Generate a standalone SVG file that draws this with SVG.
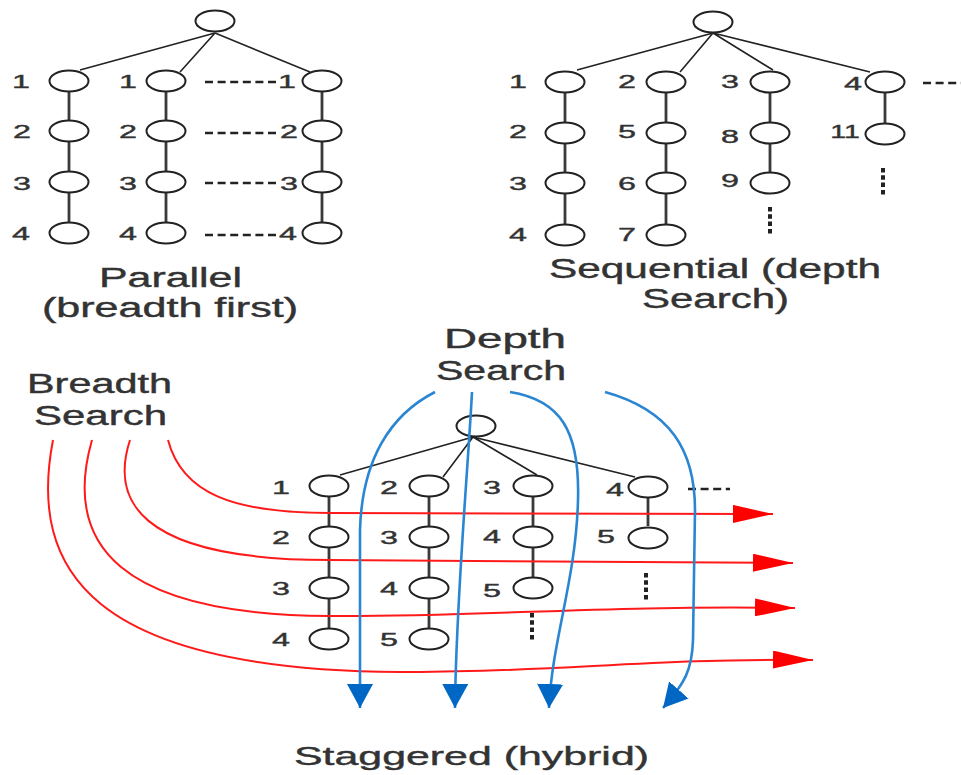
<svg xmlns="http://www.w3.org/2000/svg" width="961" height="775" viewBox="0 0 961 775">
  <style>
    .nd { fill: #fff; stroke: #222; stroke-width: 2; }
    .tx { font-family: "Liberation Sans", Arial, sans-serif; fill: #333; stroke: #333; stroke-width: 0.4; }
    .big { font-size: 27px; }
    .n { font-size: 19px; text-anchor: middle; }
    .edge { stroke: #222; stroke-width: 1.6; fill: none; }
    .stem { stroke: #3a3a3a; stroke-width: 2.8; fill: none; }
    .dash { stroke: #222; stroke-width: 2.6; stroke-dasharray: 8 4.6; fill: none; }
    .vdots { stroke: #222; stroke-width: 4; stroke-dasharray: 4.5 2.8; fill: none; }
    .red { stroke: #ff1a1a; stroke-width: 2; fill: none; marker-end: url(#redHead); }
    .blue { stroke: #2a86d2; stroke-width: 2.6; fill: none; marker-end: url(#blueHead); }
  </style>
  <defs>
    <marker id="redHead" markerUnits="userSpaceOnUse" markerWidth="40" markerHeight="18" refX="40" refY="9" orient="auto">
      <path d="M0,0 L40,9 L0,18 z" fill="#ff0000"/>
    </marker>
    <marker id="blueHead" markerUnits="userSpaceOnUse" markerWidth="24" markerHeight="26" refX="24" refY="13" orient="auto">
      <path d="M0,0 L24,13 L0,26 z" fill="#0068c4"/>
    </marker>
  </defs>

  <rect width="961" height="775" fill="#fff"/>

  <!-- ===== Parallel tree: edges ===== -->
  <g id="parallel-edges">
    <path class="edge" d="M215,33 L80,70 M215,33 L180,72 M215,33 L310,72"/>
    <path class="stem" d="M69,92 V120 M69,142 V171 M69,193 V222"/>
    <path class="stem" d="M166,92 V120 M166,142 V171 M166,193 V222"/>
    <path class="stem" d="M322,92 V120 M322,142 V171 M322,193 V222"/>
    <path class="dash" d="M205,82 H278 M205,133 H278 M205,183 H278 M205,235 H278"/>
  </g>

  <!-- ===== Parallel tree: nodes ===== -->
  <g id="p-root"><ellipse class="nd" cx="215" cy="21" rx="19.5" ry="10.5"/></g>
  <g id="p-a1"><ellipse class="nd" cx="69" cy="81" rx="19.5" ry="10.5"/><text class="tx n" transform="translate(21,88) scale(1.7,1)">1</text></g>
  <g id="p-a2"><ellipse class="nd" cx="69" cy="131" rx="19.5" ry="10.5"/><text class="tx n" transform="translate(22,138) scale(1.7,1)">2</text></g>
  <g id="p-a3"><ellipse class="nd" cx="69" cy="182" rx="19.5" ry="10.5"/><text class="tx n" transform="translate(22,190) scale(1.7,1)">3</text></g>
  <g id="p-a4"><ellipse class="nd" cx="69" cy="233" rx="19.5" ry="10.5"/><text class="tx n" transform="translate(21,240) scale(1.7,1)">4</text></g>
  <g id="p-b1"><ellipse class="nd" cx="166" cy="81" rx="19.5" ry="10.5"/><text class="tx n" transform="translate(128,88) scale(1.7,1)">1</text></g>
  <g id="p-b2"><ellipse class="nd" cx="166" cy="131" rx="19.5" ry="10.5"/><text class="tx n" transform="translate(128,138) scale(1.7,1)">2</text></g>
  <g id="p-b3"><ellipse class="nd" cx="166" cy="182" rx="19.5" ry="10.5"/><text class="tx n" transform="translate(128,190) scale(1.7,1)">3</text></g>
  <g id="p-b4"><ellipse class="nd" cx="166" cy="233" rx="19.5" ry="10.5"/><text class="tx n" transform="translate(128,240) scale(1.7,1)">4</text></g>
  <g id="p-c1"><ellipse class="nd" cx="322" cy="81" rx="19.5" ry="10.5"/><text class="tx n" transform="translate(287,88) scale(1.7,1)">1</text></g>
  <g id="p-c2"><ellipse class="nd" cx="322" cy="131" rx="19.5" ry="10.5"/><text class="tx n" transform="translate(289,138) scale(1.7,1)">2</text></g>
  <g id="p-c3"><ellipse class="nd" cx="322" cy="182" rx="19.5" ry="10.5"/><text class="tx n" transform="translate(289,190) scale(1.7,1)">3</text></g>
  <g id="p-c4"><ellipse class="nd" cx="322" cy="233" rx="19.5" ry="10.5"/><text class="tx n" transform="translate(288,240) scale(1.7,1)">4</text></g>

  <g id="p-caption">
    <text class="tx big" x="99" y="287" textLength="143" lengthAdjust="spacingAndGlyphs">Parallel</text>
    <text class="tx big" x="42" y="317" textLength="256" lengthAdjust="spacingAndGlyphs">(breadth first)</text>
  </g>

  <!-- ===== Sequential tree: edges ===== -->
  <g id="sequential-edges">
    <path class="edge" d="M713,33 L577,70 M713,33 L680,72 M713,33 L773,70 M713,33 L870,72"/>
    <path class="stem" d="M565,93 V122 M565,144 V172 M565,194 V224"/>
    <path class="stem" d="M666,93 V122 M666,144 V172 M666,194 V224"/>
    <path class="stem" d="M770,93 V122 M770,144 V172"/>
    <path class="stem" d="M885,93 V123"/>
    <path class="dash" d="M923,83 H961"/>
    <path class="vdots" d="M770,207 V235 M883,168 V197"/>
  </g>

  <!-- ===== Sequential tree: nodes ===== -->
  <g id="s-root"><ellipse class="nd" cx="713" cy="22" rx="19.5" ry="10.5"/></g>
  <g id="s-a1"><ellipse class="nd" cx="565" cy="82" rx="19.5" ry="10.5"/><text class="tx n" transform="translate(518,88) scale(1.7,1)">1</text></g>
  <g id="s-a2"><ellipse class="nd" cx="565" cy="133" rx="19.5" ry="10.5"/><text class="tx n" transform="translate(518,138) scale(1.7,1)">2</text></g>
  <g id="s-a3"><ellipse class="nd" cx="565" cy="183" rx="19.5" ry="10.5"/><text class="tx n" transform="translate(518,190) scale(1.7,1)">3</text></g>
  <g id="s-a4"><ellipse class="nd" cx="565" cy="235" rx="19.5" ry="10.5"/><text class="tx n" transform="translate(518,241) scale(1.7,1)">4</text></g>
  <g id="s-b2"><ellipse class="nd" cx="666" cy="82" rx="19.5" ry="10.5"/><text class="tx n" transform="translate(627,88) scale(1.7,1)">2</text></g>
  <g id="s-b5"><ellipse class="nd" cx="666" cy="133" rx="19.5" ry="10.5"/><text class="tx n" transform="translate(627,138) scale(1.7,1)">5</text></g>
  <g id="s-b6"><ellipse class="nd" cx="666" cy="183" rx="19.5" ry="10.5"/><text class="tx n" transform="translate(627,190) scale(1.7,1)">6</text></g>
  <g id="s-b7"><ellipse class="nd" cx="666" cy="235" rx="19.5" ry="10.5"/><text class="tx n" transform="translate(627,241) scale(1.7,1)">7</text></g>
  <g id="s-c3"><ellipse class="nd" cx="770" cy="82" rx="19.5" ry="10.5"/><text class="tx n" transform="translate(730,88) scale(1.7,1)">3</text></g>
  <g id="s-c8"><ellipse class="nd" cx="770" cy="133" rx="19.5" ry="10.5"/><text class="tx n" transform="translate(730,143) scale(1.7,1)">8</text></g>
  <g id="s-c9"><ellipse class="nd" cx="770" cy="183" rx="19.5" ry="10.5"/><text class="tx n" transform="translate(730,187) scale(1.7,1)">9</text></g>
  <g id="s-d4"><ellipse class="nd" cx="885" cy="82" rx="19.5" ry="10.5"/><text class="tx n" transform="translate(853,90) scale(1.7,1)">4</text></g>
  <g id="s-d11"><ellipse class="nd" cx="885" cy="134" rx="19.5" ry="10.5"/><text class="tx n" transform="translate(845,138) scale(1.5,1)">11</text></g>

  <g id="s-caption">
    <text class="tx big" x="549" y="278" textLength="332" lengthAdjust="spacingAndGlyphs">Sequential (depth</text>
    <text class="tx big" x="642" y="308" textLength="147" lengthAdjust="spacingAndGlyphs">Search)</text>
  </g>

  <!-- ===== Staggered tree: edges ===== -->
  <g id="staggered-edges">
    <path class="edge" d="M473,437 L340,475 M473,437 L443,477 M473,437 L537,475 M473,437 L635,477"/>
    <path class="stem" d="M329,497 V526 M329,548 V577 M329,599 V628"/>
    <path class="stem" d="M429,497 V526 M429,548 V577 M429,599 V628"/>
    <path class="stem" d="M533,497 V526 M533,548 V577"/>
    <path class="stem" d="M648,497 V526"/>
    <path class="dash" d="M688,489 H730"/>
    <path class="vdots" d="M532,613 V641 M646,573 V602"/>
  </g>

  <!-- ===== Staggered tree: nodes ===== -->
  <g id="h-root"><ellipse class="nd" cx="476" cy="426" rx="19.5" ry="10.5"/></g>
  <g id="h-a1"><ellipse class="nd" cx="329" cy="486" rx="19.5" ry="10.5"/><text class="tx n" transform="translate(281,494) scale(1.7,1)">1</text></g>
  <g id="h-a2"><ellipse class="nd" cx="329" cy="537" rx="19.5" ry="10.5"/><text class="tx n" transform="translate(281,544) scale(1.7,1)">2</text></g>
  <g id="h-a3"><ellipse class="nd" cx="329" cy="588" rx="19.5" ry="10.5"/><text class="tx n" transform="translate(281,595) scale(1.7,1)">3</text></g>
  <g id="h-a4"><ellipse class="nd" cx="329" cy="639" rx="19.5" ry="10.5"/><text class="tx n" transform="translate(281,646) scale(1.7,1)">4</text></g>
  <g id="h-b2"><ellipse class="nd" cx="429" cy="486" rx="19.5" ry="10.5"/><text class="tx n" transform="translate(389,494) scale(1.7,1)">2</text></g>
  <g id="h-b3"><ellipse class="nd" cx="429" cy="537" rx="19.5" ry="10.5"/><text class="tx n" transform="translate(389,544) scale(1.7,1)">3</text></g>
  <g id="h-b4"><ellipse class="nd" cx="429" cy="588" rx="19.5" ry="10.5"/><text class="tx n" transform="translate(389,595) scale(1.7,1)">4</text></g>
  <g id="h-b5"><ellipse class="nd" cx="429" cy="639" rx="19.5" ry="10.5"/><text class="tx n" transform="translate(389,646) scale(1.7,1)">5</text></g>
  <g id="h-c3"><ellipse class="nd" cx="533" cy="486" rx="19.5" ry="10.5"/><text class="tx n" transform="translate(492,494) scale(1.7,1)">3</text></g>
  <g id="h-c4"><ellipse class="nd" cx="533" cy="537" rx="19.5" ry="10.5"/><text class="tx n" transform="translate(492,543) scale(1.7,1)">4</text></g>
  <g id="h-c5"><ellipse class="nd" cx="533" cy="588" rx="19.5" ry="10.5"/><text class="tx n" transform="translate(492,597) scale(1.7,1)">5</text></g>
  <g id="h-d4"><ellipse class="nd" cx="648" cy="487" rx="19.5" ry="10.5"/><text class="tx n" transform="translate(615,496) scale(1.7,1)">4</text></g>
  <g id="h-d5"><ellipse class="nd" cx="648" cy="538" rx="19.5" ry="10.5"/><text class="tx n" transform="translate(606,543) scale(1.7,1)">5</text></g>

  <!-- ===== Search-order labels ===== -->
  <g id="breadth-label">
    <text class="tx big" x="27" y="393" textLength="145" lengthAdjust="spacingAndGlyphs">Breadth</text>
    <text class="tx big" x="34" y="425" textLength="133" lengthAdjust="spacingAndGlyphs">Search</text>
  </g>
  <g id="depth-label">
    <text class="tx big" x="444" y="348" textLength="122" lengthAdjust="spacingAndGlyphs">Depth</text>
    <text class="tx big" x="436" y="380" textLength="130" lengthAdjust="spacingAndGlyphs">Search</text>
  </g>

  <!-- ===== Breadth sweeps (red) ===== -->
  <g id="breadth-arrows">
    <path class="red" d="M168,440 C182,493 232,513 330,513 L773,514"/>
    <path class="red" d="M130,440 C112,495 130,560 330,560 L793,563"/>
    <path class="red" d="M92,440 C62,545 120,615 330,616 C480,617 600,605 795,608"/>
    <path class="red" d="M53,440 C28,570 90,670 400,672 C550,673 650,658 813,660"/>
  </g>

  <!-- ===== Depth sweeps (blue) ===== -->
  <g id="depth-arrows">
    <path class="blue" d="M435,392 C390,415 362,460 360,530 L360,708"/>
    <path class="blue" d="M472,392 C468,470 456,600 455,708"/>
    <path class="blue" d="M510,392 C560,400 580,430 578,500 C576,580 552,640 549,708"/>
    <path class="blue" d="M605,392 C670,410 695,450 695,510 L693,640 C692,670 685,683 663,708"/>
  </g>

  <g id="h-caption">
    <text class="tx" style="font-size:26px" x="294" y="765" textLength="355" lengthAdjust="spacingAndGlyphs">Staggered (hybrid)</text>
  </g>
</svg>
